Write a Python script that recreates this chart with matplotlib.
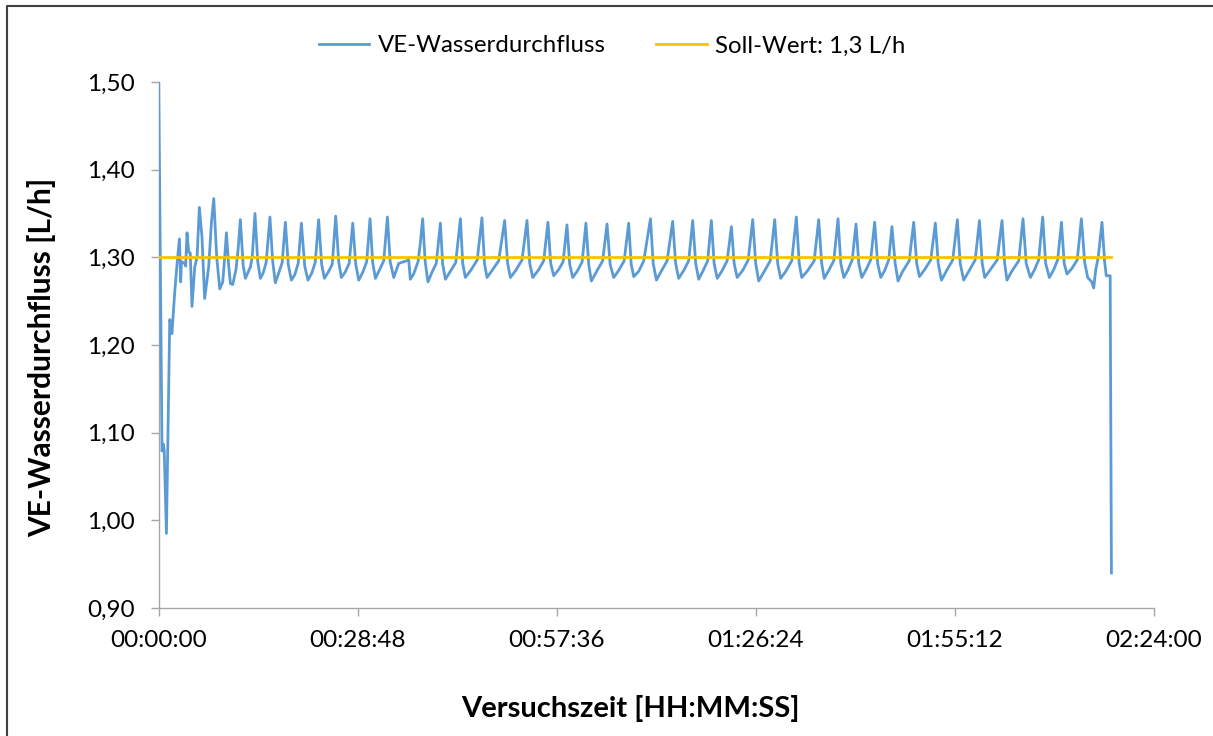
import matplotlib
matplotlib.use("Agg")
import matplotlib.pyplot as plt
from matplotlib.lines import Line2D
from matplotlib.ticker import FixedLocator, FuncFormatter

# Versuchszeit in Sekunden und gemessener VE-Wasserdurchfluss in L/h (Stützpunkte)
zeit_s = [
    0, 29, 39, 48, 67, 96, 104, 115, 139, 161,
    180, 191, 197, 226, 234,
    246, 260, 274, 289, 313, 333,
    353, 376, 399, 434, 458,
    478, 504, 530, 556, 573,
    588, 608, 623, 643, 671, 690,
    709, 734, 753, 796, 812,
    836, 860, 883, 907, 933,
    966, 990, 1013, 1042, 1072,
    1100, 1125, 1152, 1181, 1211,
    1239, 1268, 1296, 1329, 1359,
    1389, 1415, 1439, 1476, 1507,
    1537, 1563, 1586, 1619, 1654,
    1685, 1711, 1737, 1772, 1806,
    1835, 1858, 1882, 1915, 1954,
    1986, 2010, 2041, 2084, 2127, 2171,
    2185, 2214, 2252, 2271,
    2292, 2314, 2338, 2373, 2410,
    2446, 2466, 2490, 2527, 2579,
    2620, 2640, 2663, 2709, 2766,
    2807, 2829, 2851, 2900, 2952,
    3004, 3030, 3054, 3100, 3155,
    3198, 3222, 3248, 3300, 3343,
    3380, 3404, 3430, 3473, 3512,
    3545, 3569, 3595, 3638, 3677,
    3710, 3734, 3757, 3803, 3855,
    3893, 3920, 3951, 3994, 4042,
    4081, 4103, 4125, 4168, 4212,
    4270, 4294, 4322, 4359, 4415,
    4463, 4489, 4515, 4559, 4602,
    4637, 4663, 4689, 4728, 4767,
    4799, 4823, 4850, 4889, 4936,
    4973, 4997, 5023, 5071, 5119,
    5158, 5184, 5210, 5254, 5310,
    5349, 5375, 5401, 5445, 5497,
    5537, 5562, 5584, 5636, 5692,
    5731, 5757, 5779, 5818, 5862,
    5899, 5923, 5949, 5983, 6022,
    6055, 6079, 6105, 6143, 6182,
    6217, 6243, 6270, 6304, 6339,
    6367, 6395, 6420, 6460, 6517,
    6556, 6582, 6606, 6651, 6704,
    6744, 6769, 6797, 6838, 6895,
    6935, 6960, 6990, 7034, 7090,
    7127, 7151, 7173, 7216, 7281,
    7323, 7346, 7366, 7407, 7468,
    7505, 7533, 7569, 7602, 7641,
    7676, 7702, 7734, 7772, 7806,
    7839, 7863, 7887, 7928, 7976,
    8012, 8041, 8067, 8102, 8119, 8136, 8158,
    8191, 8214, 8228, 8262, 8273,
]

durchfluss = [
    1.500, 1.079, 1.087, 1.080, 0.985, 1.229, 1.225, 1.213, 1.260, 1.295,
    1.321, 1.272, 1.295, 1.293, 1.290,
    1.328, 1.306, 1.305, 1.244, 1.289, 1.300,
    1.357, 1.323, 1.253, 1.289, 1.340,
    1.367, 1.300, 1.264, 1.272, 1.300,
    1.328, 1.290, 1.270, 1.269, 1.286, 1.310,
    1.343, 1.290, 1.276, 1.289, 1.300,
    1.350, 1.295, 1.276, 1.282, 1.294,
    1.346, 1.295, 1.271, 1.282, 1.294,
    1.340, 1.292, 1.274, 1.280, 1.293,
    1.339, 1.290, 1.274, 1.282, 1.294,
    1.343, 1.292, 1.276, 1.284, 1.292,
    1.347, 1.295, 1.277, 1.283, 1.293,
    1.339, 1.292, 1.274, 1.283, 1.295,
    1.344, 1.294, 1.276, 1.285, 1.296,
    1.346, 1.295, 1.277, 1.293, 1.295, 1.297,
    1.275, 1.281, 1.295, 1.315,
    1.344, 1.295, 1.272, 1.283, 1.293,
    1.339, 1.292, 1.275, 1.283, 1.294,
    1.344, 1.293, 1.277, 1.285, 1.297,
    1.345, 1.293, 1.277, 1.286, 1.296,
    1.342, 1.293, 1.277, 1.285, 1.297,
    1.342, 1.293, 1.277, 1.286, 1.296,
    1.340, 1.293, 1.279, 1.286, 1.295,
    1.337, 1.292, 1.277, 1.285, 1.295,
    1.339, 1.292, 1.273, 1.284, 1.296,
    1.338, 1.292, 1.277, 1.285, 1.296,
    1.339, 1.292, 1.278, 1.284, 1.296,
    1.344, 1.293, 1.274, 1.283, 1.296,
    1.341, 1.293, 1.276, 1.285, 1.296,
    1.342, 1.293, 1.275, 1.285, 1.296,
    1.342, 1.293, 1.276, 1.284, 1.296,
    1.335, 1.293, 1.277, 1.285, 1.297,
    1.343, 1.293, 1.273, 1.283, 1.296,
    1.343, 1.293, 1.276, 1.284, 1.296,
    1.346, 1.293, 1.277, 1.285, 1.296,
    1.343, 1.293, 1.276, 1.285, 1.296,
    1.344, 1.293, 1.277, 1.285, 1.297,
    1.338, 1.293, 1.277, 1.286, 1.297,
    1.340, 1.293, 1.277, 1.285, 1.297,
    1.335, 1.293, 1.273, 1.284, 1.296,
    1.340, 1.293, 1.278, 1.286, 1.297,
    1.339, 1.293, 1.274, 1.284, 1.297,
    1.343, 1.293, 1.274, 1.284, 1.297,
    1.342, 1.293, 1.277, 1.285, 1.297,
    1.342, 1.293, 1.274, 1.284, 1.296,
    1.344, 1.293, 1.277, 1.285, 1.297,
    1.346, 1.293, 1.277, 1.286, 1.297,
    1.340, 1.293, 1.281, 1.287, 1.297,
    1.344, 1.294, 1.277, 1.272, 1.265, 1.285, 1.300,
    1.340, 1.295, 1.279, 1.279, 0.940,
]

soll_wert = 1.3

x_ticks_s = [0, 1728, 3456, 5184, 6912, 8640]
y_ticks = [0.90, 1.00, 1.10, 1.20, 1.30, 1.40, 1.50]

assert len(zeit_s) == len(durchfluss)

plt.rcParams['font.family'] = ['Lato', 'DejaVu Sans']

W, H = 1213, 736
fig = plt.figure(figsize=(W / 100, H / 100), dpi=100)
fig.patch.set_facecolor('white')

x0, x1, y_top, y_bot = 158.7, 1153.7, 82, 608
ax = fig.add_axes([x0 / W, 1 - y_bot / H, (x1 - x0) / W, (y_bot - y_top) / H])

ax.plot(zeit_s, durchfluss, color='#5B9BD5', lw=2.0,
        label='VE-Wasserdurchfluss', zorder=3, solid_joinstyle='round')
ax.plot([zeit_s[0], zeit_s[-1]], [soll_wert, soll_wert], color='#FFC000',
        lw=2.0, label='Soll-Wert: 1,3 L/h', zorder=4)

ax.set_xlim(x_ticks_s[0], x_ticks_s[-1])
ax.set_ylim(y_ticks[0], y_ticks[-1])


def hhmmss(v, _pos=None):
    s = int(round(v))
    return f"{s // 3600:02d}:{(s % 3600) // 60:02d}:{s % 60:02d}"


ax.xaxis.set_major_locator(FixedLocator(x_ticks_s))
ax.xaxis.set_major_formatter(FuncFormatter(hhmmss))
ax.yaxis.set_major_locator(FixedLocator(y_ticks))
ax.yaxis.set_major_formatter(FuncFormatter(lambda v, p: f"{v:.2f}".replace('.', ',')))

axis_grey = '#a6a6a6'
for side in ('top', 'right'):
    ax.spines[side].set_visible(False)
for side in ('left', 'bottom'):
    ax.spines[side].set_color(axis_grey)
    ax.spines[side].set_linewidth(1.0)

ax.tick_params(axis='both', direction='out', length=5.5, width=1.0,
               color=axis_grey, labelsize=17.5, labelcolor='black')
ax.tick_params(axis='y', pad=12)
ax.tick_params(axis='x', pad=10)

fig.text(42 / W, 1 - 357 / H, 'VE-Wasserdurchfluss [L/h]', rotation=90,
         ha='center', va='center', fontsize=21.5, fontweight='bold')
fig.text(630 / W, 1 - 709 / H, 'Versuchszeit [HH:MM:SS]',
         ha='center', va='center', fontsize=21, fontweight='bold')

fig.legend(loc='center', bbox_to_anchor=(612 / W, 1 - 46 / H), ncol=2,
           frameon=False, fontsize=17.3, handlelength=2.1,
           handletextpad=0.35, columnspacing=2.1)

# Rahmen um das Diagramm
fig.add_artist(Line2D([7 / W, 7 / W, 1.0], [0.0, 1 - 6 / H, 1 - 6 / H],
                      transform=fig.transFigure, color='#404040', lw=1.5))

fig.savefig('out.png', dpi=100)
